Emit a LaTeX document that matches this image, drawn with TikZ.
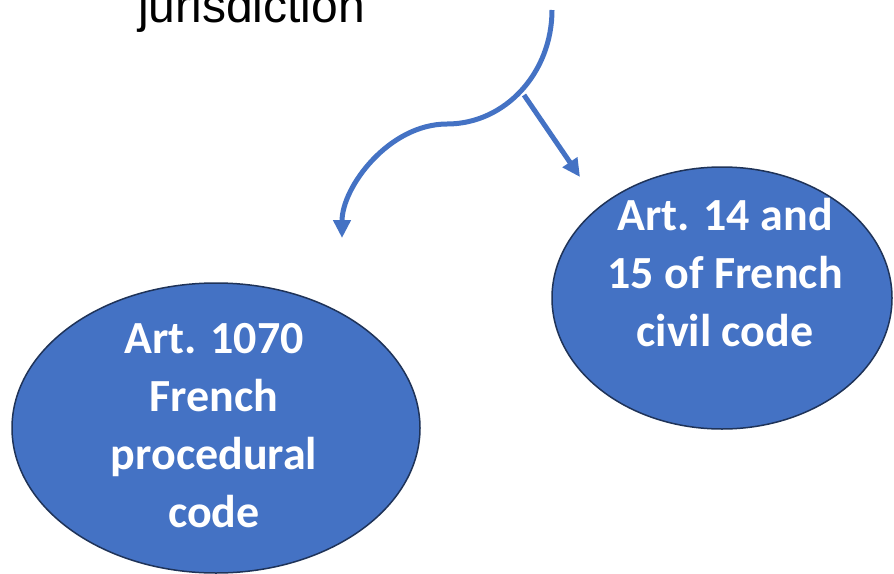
\documentclass[tikz,border=0pt]{standalone}
\usepackage{fontspec}
\setmainfont{Carlito}
\newfontfamily\arialfont{Liberation Sans}
\usetikzlibrary{shapes.geometric, arrows.meta, positioning}
\definecolor{pptblue}{HTML}{4472C4}
\definecolor{pptedge}{HTML}{1F3358}

\begin{document}
\begin{tikzpicture}[x=1pt, y=-1pt,
	court/.style={draw=pptedge, line width=1.5pt, fill=pptblue, shape=ellipse, inner sep=0pt},
	rule/.style={font=\fontsize{46}{58}\selectfont\bfseries, text=white, align=center},
	link/.style={draw=pptblue, line width=5pt, -{Triangle[length=18pt, width=17pt]}}]
	\useasboundingbox (0,0) rectangle (894,573);
	\clip (0,0) rectangle (894,573);
	\fill[white] (0,0) rectangle (894,573);

	\node[court, minimum width=408, minimum height=290] (proc) at (216,428) {};
	\node[court, minimum width=340, minimum height=262] (civil) at (722,298) {};

	\node[rule] (proctext) at (214,426) {Art. 1070\\French\\procedural\\code};
	\node[rule] (civiltext) at (725,273) {Art. 14 and\\15 of French\\civil code};

	\node[font=\arialfont\fontsize{48}{58}\selectfont, anchor=base west, inner sep=0pt] (juris) at (138,22) {jurisdiction};

	\coordinate (split) at (552,10);
	\coordinate (bend) at (447,124);
	\coordinate (procend) at (342,238);
	\coordinate (fork) at (524,95);
	\coordinate (civilend) at (580,177);

	\draw[link] (split) .. controls (552,73) and (505,124) .. (bend)
		.. controls (389,124) and (342,187) .. (procend);
	\draw[link] (fork) -- (civilend);

\end{tikzpicture}
\end{document}
